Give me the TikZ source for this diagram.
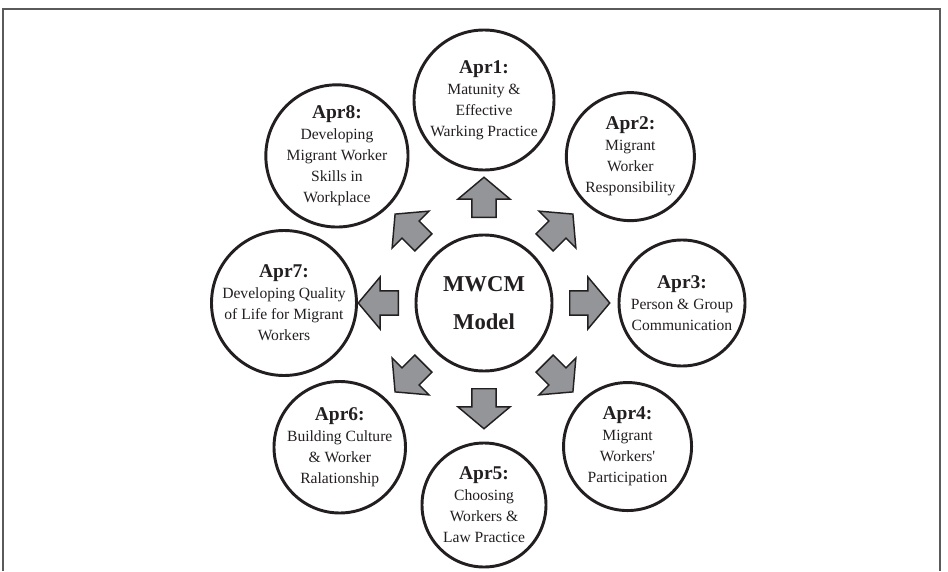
\documentclass[tikz,border=0pt]{standalone}
\usepackage{fontspec}
\setmainfont{Liberation Serif}
\usetikzlibrary{shapes.arrows}
\definecolor{inkblk}{HTML}{231F20}
\definecolor{arrgray}{HTML}{939598}
\definecolor{framegray}{HTML}{5A5A5A}
\newcommand{\aprfont}{\fontsize{11.7}{15.75}\selectfont}
\newcommand{\aprhead}[1]{{\fontsize{14.6}{15.75}\selectfont\bfseries Apr#1:}}

\begin{document}
\begin{tikzpicture}[x=0.75pt,y=0.75pt,
  apr/.style={circle,draw=inkblk,line width=2.2pt,text=inkblk,align=center,inner sep=0pt,font=\aprfont},
  blockarrow/.style={single arrow,draw=inkblk,fill=arrgray,line width=1.1pt,inner xsep=0pt,inner ysep=8.5pt,
    minimum height=30pt,single arrow head extend=10.5pt,single arrow tip angle=100}]
  \useasboundingbox (-484,-268) rectangle (464,303);
  \draw[framegray,line width=1.5pt] (-481,-268)--(-481,294)--(456,294)--(456,-268);
  \node[apr,minimum size=102pt,font=\fontsize{17}{28.5}\selectfont\bfseries] (mwcm) at (0,0) {MWCM\\Model};
  \foreach \i/\a/\d/\r/\txt in {
      1/90/203/70/{Matunity \&\\Effective\\Warking Practice},
      2/45/207/64/{Migrant\\Worker\\Responsibility},
      3/0/198/63/{Person \& Group\\Communication},
      4/-45/203/64/{Migrant\\Workers\textquotesingle\\Participation},
      5/-90/202/62/{Choosing\\Workers \&\\Law Practice},
      6/-135/204/62/{Building Culture\\\& Worker\\Ralationship},
      7/180/200/69/{Developing Quality\\of Life for Migrant\\Workers},
      8/135/208/61/{Developing\\Migrant Worker\\Skills in\\Workplace}}{
    \pgfmathsetmacro{\dm}{1.5*\r}
    \node[apr,minimum size=\dm pt] (apr\i) at (\a:\d) {\aprhead{\i}\\\txt};
  }
  \foreach \a in {0,45,...,315}{\node[blockarrow,rotate=\a,anchor=tail] (arr\a) at (\a:85) {};}
\end{tikzpicture}
\end{document}
